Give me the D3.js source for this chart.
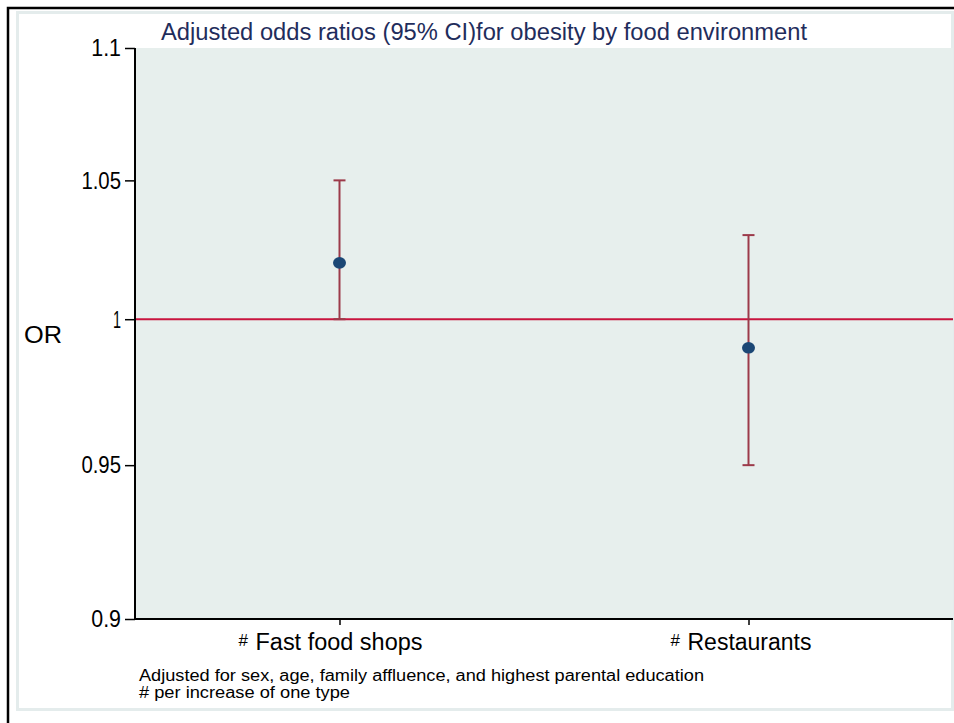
<!DOCTYPE html>
<html><head><meta charset="utf-8">
<script src="https://cdn.jsdelivr.net/npm/d3@7"></script>
<style>html,body{margin:0;padding:0;background:#fff;}svg{display:block;font-family:"Liberation Sans",Arial,sans-serif;}</style>
</head><body>
<script>
const categories = ["Fast food shops", "Restaurants"];
const oddsRatios = [1.02, 0.99];
const ciLower = [1.00, 0.95];
const ciUpper = [1.05, 1.03];
const yTicks = [0.9, 0.95, 1, 1.05, 1.1];
const yTickLabels = ["0.9", "0.95", "1", "1.05", "1.1"];
const refValue = 1;
const titleText = "Adjusted odds ratios (95% CI)for obesity by food environment";
const notes = ["Adjusted for sex, age, family affluence, and highest parental education", "# per increase of one type"];

const W = 954, H = 723;
const svg = d3.select("body").append("svg").attr("width", W).attr("height", H);

// frames
svg.append("rect").attr("x", 8).attr("y", 8).attr("width", W).attr("height", H).attr("fill", "#fff").attr("stroke", "#000").attr("stroke-width", 2.5);
svg.append("rect").attr("x", 17.5).attr("y", 12.5).attr("width", 935).attr("height", 697).attr("fill", "#fff").attr("stroke", "#e4ecec").attr("stroke-width", 3);

const m = {left: 135, top: 48, right: 953, bottom: 619};
const y = d3.scaleLog().domain([0.9, 1.1]).range([m.bottom, m.top]);
const x = d3.scalePoint().domain(categories).range([m.left, m.right]).padding(0.5);

svg.append("rect").attr("x", m.left).attr("y", m.top).attr("width", m.right - m.left).attr("height", m.bottom - m.top).attr("fill", "#e7efed");

// title
svg.append("text").attr("x", 484).attr("y", 40).attr("text-anchor", "middle").attr("fill", "#1f2d5c")
  .attr("font-size", 23).attr("textLength", 646).attr("lengthAdjust", "spacingAndGlyphs").text(titleText);

// y axis
const yAxis = d3.axisLeft(y).tickValues(yTicks).tickFormat((d, i) => yTickLabels[i]).tickSize(10).tickPadding(4);
const gy = svg.append("g").attr("transform", `translate(${m.left},0)`).call(yAxis);
gy.select(".domain").attr("stroke", "#000").attr("stroke-width", 2).attr("d", `M0,${m.top}V${m.bottom}`);
gy.selectAll(".tick line").attr("stroke", "#000").attr("stroke-width", 1.5);
gy.selectAll(".tick text").attr("fill", "#000").attr("font-size", 23).attr("dy", "0.34em")
  .attr("font-family", "'Liberation Sans',Arial,sans-serif")
  .attr("textLength", (d, i) => yTickLabels[i].length === 1 ? 8 : yTickLabels[i].length * 9.9)
  .attr("lengthAdjust", "spacingAndGlyphs");

// x axis
const xAxis = d3.axisBottom(x).tickSize(6).tickFormat("");
const gx = svg.append("g").attr("transform", `translate(0,${m.bottom})`).call(xAxis);
gx.select(".domain").attr("stroke", "#000").attr("stroke-width", 2).attr("d", `M${m.left},0H${m.right}`);
gx.selectAll(".tick line").attr("stroke", "#000").attr("stroke-width", 1.5);

// x labels with superscript #
const labelW = [167, 124];
categories.forEach((c, i) => {
  const g = svg.append("g");
  g.append("text").attr("x", x(c) + (i === 0 ? -84 : -61)).attr("y", 650).attr("fill", "#000").attr("font-size", 23)
    .attr("textLength", labelW[i]).attr("lengthAdjust", "spacingAndGlyphs").text(c);
  g.append("text").attr("x", x(c) + (i === 0 ? -101 : -78)).attr("y", 646).attr("fill", "#000").attr("font-size", 17).text("#");
});

// OR label
svg.append("text").attr("x", 24).attr("y", 343).attr("font-size", 23).attr("fill", "#000").attr("textLength", 38).attr("lengthAdjust", "spacingAndGlyphs").text("OR");

// reference line
svg.append("line").attr("x1", m.left + 1).attr("x2", m.right).attr("y1", y(refValue)).attr("y2", y(refValue))
  .attr("stroke", "#c8143e").attr("stroke-width", 2);

// error bars
const eb = svg.append("g");
categories.forEach((c, i) => {
  const cx = x(c);
  eb.append("line").attr("x1", cx).attr("x2", cx).attr("y1", y(ciLower[i])).attr("y2", y(ciUpper[i])).attr("stroke", "#9c3a4a").attr("stroke-width", 2);
  [ciLower[i], ciUpper[i]].forEach(v => {
    eb.append("line").attr("x1", cx - 6).attr("x2", cx + 6).attr("y1", y(v)).attr("y2", y(v)).attr("stroke", "#9c3a4a").attr("stroke-width", 2);
  });
  eb.append("ellipse").attr("cx", cx).attr("cy", y(oddsRatios[i])).attr("rx", 6.5).attr("ry", 5.8).attr("fill", "#1b4775");
});

// notes
svg.append("text").attr("x", 139).attr("y", 681).attr("font-size", 16).attr("fill", "#000").attr("textLength", 565).attr("lengthAdjust", "spacingAndGlyphs").text(notes[0]);
svg.append("text").attr("x", 139).attr("y", 698).attr("font-size", 16).attr("fill", "#000").attr("textLength", 211).attr("lengthAdjust", "spacingAndGlyphs").text(notes[1]);
</script>
</body></html>
